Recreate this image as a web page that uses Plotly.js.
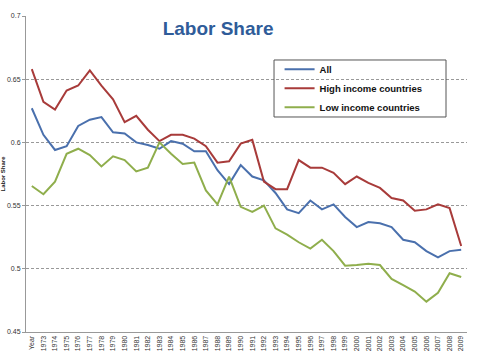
<!DOCTYPE html>
<html>
<head>
<meta charset="utf-8">
<script src="https://cdn.plot.ly/plotly-3.0.1.min.js"></script>
<style>html,body{margin:0;padding:0;background:#fff;}#chart{width:499px;height:359px;}</style>
</head>
<body>
<div id="chart"></div>
<script>
const years = ["Year","1973","1974","1975","1976","1977","1978","1979","1980","1981","1982","1983","1984","1985","1986","1987","1988","1989","1990","1991","1992","1993","1994","1995","1996","1997","1998","1999","2000","2001","2002","2003","2004","2005","2006","2007","2008","2009"];
const allCountries = [0.627,0.606,0.594,0.597,0.613,0.618,0.620,0.608,0.607,0.600,0.598,0.595,0.601,0.599,0.593,0.593,0.578,0.567,0.582,0.573,0.570,0.560,0.547,0.544,0.554,0.547,0.551,0.541,0.533,0.537,0.536,0.533,0.523,0.521,0.514,0.509,0.514,0.515];
const highIncome = [0.658,0.632,0.626,0.641,0.645,0.657,0.645,0.634,0.616,0.621,0.610,0.601,0.606,0.606,0.603,0.597,0.584,0.585,0.599,0.602,0.569,0.563,0.563,0.586,0.580,0.580,0.576,0.567,0.573,0.568,0.564,0.556,0.554,0.546,0.547,0.551,0.548,0.518];
const lowIncome = [0.5655,0.559,0.569,0.591,0.595,0.590,0.581,0.589,0.586,0.577,0.580,0.600,0.591,0.583,0.584,0.562,0.551,0.573,0.549,0.545,0.550,0.532,0.527,0.521,0.516,0.523,0.514,0.5025,0.503,0.504,0.503,0.492,0.487,0.482,0.474,0.481,0.4965,0.4935];
const seriesNames = ["All","High income countries","Low income countries"];
const seriesColors = ["#4a70ad","#a83b3a","#8fae4c"];
const yTicks = [0.45,0.5,0.55,0.6,0.65,0.7];

const data = [allCountries, highIncome, lowIncome].map((vals, i) => ({
  x: years, y: vals, type: 'scatter', mode: 'lines', name: seriesNames[i],
  legendgroup: 'g' + i,
  line: {color: seriesColors[i], width: 2}
}));

const layout = {
  width: 499, height: 359,
  margin: {l: 26, r: 32, t: 16, b: 27},
  paper_bgcolor: '#fff', plot_bgcolor: '#fff',
  font: {family: 'Liberation Sans, Arial, sans-serif', size: 7, color: '#333'},
  title: {text: '<b>Labor Share</b>', font: {family: 'Liberation Sans, Arial, sans-serif', size: 19, color: '#2f5c99'},
          x: 0.437, xref: 'container', xanchor: 'center', y: 0.922, yref: 'container', yanchor: 'middle'},
  xaxis: {type: 'category', tickangle: -90, showgrid: false, showline: true, linecolor: '#999', linewidth: 1,
          ticks: '', tickfont: {size: 7, color: '#333'}, range: [-0.5, 37.5], fixedrange: true},
  yaxis: {range: [0.45, 0.7], tickvals: yTicks, ticktext: yTicks.map(v => String(v)), showgrid: true,
          gridcolor: '#999', griddash: '3px,2px', gridwidth: 1, showline: true, linecolor: '#999', linewidth: 1,
          ticks: 'outside', ticklen: 3, tickcolor: '#999', tickfont: {size: 7, color: '#333'}, zeroline: false,
          title: {text: '<b>Labor Share</b>', font: {size: 6, color: '#222'}, standoff: 2}},
  showlegend: true,
  legend: {x: 0.575, xanchor: 'left', y: 0.877, yanchor: 'top', bgcolor: 'rgba(0,0,0,0)', borderwidth: 0,
           font: {family: 'Liberation Sans, Arial, sans-serif', size: 9.5, color: '#111', weight: 'bold'},
           tracegroupgap: 0, itemwidth: 30},
  shapes: [{type: 'rect', xref: 'paper', yref: 'paper', x0: 0.5624, x1: 0.9524, y0: 0.6804, y1: 0.8608,
            line: {color: '#555', width: 1}, fillcolor: 'rgba(0,0,0,0)'}]
};

Plotly.newPlot('chart', data, layout, {displayModeBar: false, staticPlot: true});
</script>
</body>
</html>
